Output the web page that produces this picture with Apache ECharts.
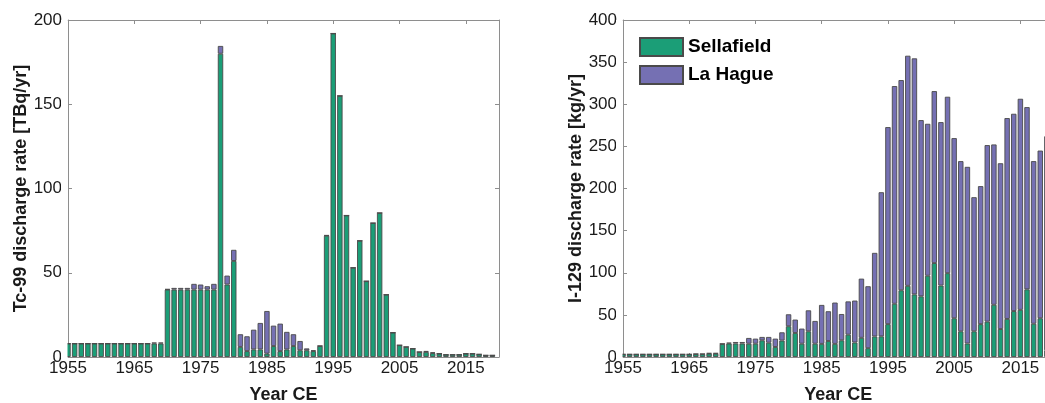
<!DOCTYPE html>
<html>
<head>
<meta charset="utf-8">
<title>Tc-99 and I-129 discharges</title>
<script src="https://cdn.jsdelivr.net/npm/echarts@6/dist/echarts.min.js"></script>
<style>
  html, body { margin: 0; padding: 0; background: #ffffff; }
  #chart { width: 1045px; height: 403px; }
</style>
</head>
<body>
<div id="chart"></div>
<script>
// Year axis: one slot per year; 2020 closes the axis and carries no bar
const years = [
  '1955', '1956', '1957', '1958', '1959', '1960', '1961', '1962', '1963', '1964',
  '1965', '1966', '1967', '1968', '1969', '1970', '1971', '1972', '1973', '1974',
  '1975', '1976', '1977', '1978', '1979', '1980', '1981', '1982', '1983', '1984',
  '1985', '1986', '1987', '1988', '1989', '1990', '1991', '1992', '1993', '1994',
  '1995', '1996', '1997', '1998', '1999', '2000', '2001', '2002', '2003', '2004',
  '2005', '2006', '2007', '2008', '2009', '2010', '2011', '2012', '2013', '2014',
  '2015', '2016', '2017', '2018', '2019', '2020'
];

// Labelled years on the time axis
const yearTicks = ['1955', '1965', '1975', '1985', '1995', '2005', '2015'];

// Tc-99 discharge rate [TBq/yr], 1955-2019
const tcSellafield = [
  8, 8, 8, 8, 8, 8, 8, 8, 8, 8,
  8, 8, 8, 8, 8, 40, 40, 40, 40, 40,
  40, 40, 40, 180, 43, 57, 6, 3.5, 4.5, 4.5,
  2, 6.5, 3.5, 4.5, 6.5, 4, 4, 3.5, 6.5, 72,
  192, 155, 84, 53, 69, 45, 79.5, 85.5, 37, 14.5,
  7, 6, 5, 3, 3, 2.3, 2, 1.4, 1.4, 1.4,
  2, 2, 1.6, 1, 1
];
const tcLaHague = [
  0, 0, 0, 0, 0, 0, 0, 0, 0, 0,
  0, 0, 0, 0.6, 0.6, 0.3, 1, 1, 1, 3.4,
  3, 2, 3.4, 4.6, 5.3, 6.6, 7.5, 8.8, 11.7, 15.7,
  25.3, 12.1, 16.3, 10.4, 7, 5.5, 1.1, 0.5, 0.2, 0.3,
  0, 0, 0, 0, 0, 0, 0, 0, 0, 0,
  0, 0, 0, 0, 0.6, 0.5, 0, 0, 0, 0,
  0, 0, 0, 0, 0
];

// I-129 discharge rate [kg/yr], 1955-2019
const iSellafield = [
  3.2, 3.2, 3.2, 3.2, 3.2, 3.2, 3.2, 3.2, 3.2, 3.2,
  3.2, 3.4, 3.4, 4, 4, 15.5, 16, 16, 16, 15.8,
  15.8, 19.8, 17, 11.9, 19.5, 36.5, 28.5, 15.8, 30.5, 15.8,
  15.6, 19, 15.6, 19.8, 26.5, 17.2, 22.8, 10.5, 24.4, 24.5,
  39, 63.2, 79.2, 84.5, 74.3, 72, 96.5, 111.5, 84.8, 99.5,
  46, 30.5, 16, 30.5, 39, 42, 62, 33.2, 45.2, 54.5,
  56, 80.3, 39.5, 46, 8
];
const iLaHague = [
  0, 0, 0, 0, 0, 0, 0, 0, 0, 0,
  0, 0.4, 0.4, 0.7, 0.7, 0.3, 1, 1.8, 1.8, 6.8,
  6, 4, 6.8, 9.9, 9.8, 14.2, 15.9, 17.9, 24.9, 27,
  46.2, 35.3, 49, 31.2, 39.5, 49.8, 70.2, 73.5, 99.2, 171.1,
  233.9, 258.4, 249.5, 273.1, 280.2, 209.2, 180.3, 204.1, 194, 209.4,
  213.8, 202, 209.7, 159.2, 163.8, 209.5, 190.3, 196.8, 238.4, 234.2,
  250.5, 216.3, 193, 199, 254
];

// Value axis ticks
const tcTicks = [0, 50, 100, 150, 200];
const iTicks = [0, 50, 100, 150, 200, 250, 300, 350, 400];

const FONT = "'Liberation Sans', Arial, Helvetica, sans-serif";
const TEXT = '#1a1a1a';
const FRAME = '#8e8e8e';
const GREEN = '#1b9e77';
const PURPLE = '#7570b3';
const EDGE = '#4a4a4a';

// Plot frames (px)
const PLOTS = [
  { left: 68, top: 20, width: 431, height: 337 },
  { left: 623, top: 20, width: 430.5, height: 337 }
];

const isTickYear = (index, value) => yearTicks.indexOf(String(value)) >= 0;

function bottomX(gridIndex) {
  return {
    type: 'category', gridIndex, position: 'bottom',
    data: years, boundaryGap: false,
    name: 'Year CE', nameLocation: 'middle', nameGap: 29,
    nameTextStyle: { fontFamily: FONT, fontSize: 18, fontWeight: 'bold', color: TEXT },
    axisLine: { show: true, onZero: false, lineStyle: { color: FRAME, width: 1 } },
    axisTick: { show: true, inside: true, length: 4, interval: isTickYear, lineStyle: { color: FRAME } },
    axisLabel: { show: true, margin: 3, interval: isTickYear, fontFamily: FONT, fontSize: 17, color: TEXT },
    splitLine: { show: false }
  };
}

function topX(gridIndex) {
  return {
    type: 'category', gridIndex, position: 'top',
    data: years, boundaryGap: false,
    axisLine: { show: true, onZero: false, lineStyle: { color: FRAME, width: 1 } },
    axisTick: { show: true, inside: true, length: 4, interval: isTickYear, lineStyle: { color: FRAME } },
    axisLabel: { show: false },
    splitLine: { show: false }
  };
}

function leftY(gridIndex, ticks, title, gap) {
  return {
    type: 'value', gridIndex, position: 'left',
    min: ticks[0], max: ticks[ticks.length - 1], interval: ticks[1] - ticks[0],
    name: title, nameLocation: 'middle', nameGap: gap, nameRotate: 90,
    nameTextStyle: { fontFamily: FONT, fontSize: 18, fontWeight: 'bold', color: TEXT },
    axisLine: { show: true, onZero: false, lineStyle: { color: FRAME, width: 1 } },
    axisTick: { show: true, inside: true, length: 4, lineStyle: { color: FRAME } },
    axisLabel: { show: true, margin: 6, fontFamily: FONT, fontSize: 17, color: TEXT },
    splitLine: { show: false }
  };
}

function rightY(gridIndex, ticks) {
  return {
    type: 'value', gridIndex, position: 'right',
    min: ticks[0], max: ticks[ticks.length - 1], interval: ticks[1] - ticks[0],
    axisLine: { show: true, onZero: false, lineStyle: { color: FRAME, width: 1 } },
    axisTick: { show: true, inside: true, length: 4, lineStyle: { color: FRAME } },
    axisLabel: { show: false },
    splitLine: { show: false }
  };
}

function barSeries(name, values, color, axisIndex, stack) {
  return {
    type: 'bar', name, stack,
    xAxisIndex: axisIndex, yAxisIndex: axisIndex,
    data: values,
    barWidth: 5.4,
    clip: true,
    itemStyle: { color, borderColor: EDGE, borderWidth: 0.9 },
    emphasis: { disabled: true },
    animation: false
  };
}

// The first year's bar sits on the y axis; mask the half that falls left of it
function edgeMask(plot) {
  return {
    type: 'rect', z: 5, silent: true,
    shape: { x: plot.left - 7, y: plot.top, width: 6.5, height: plot.height + 1 },
    style: { fill: '#ffffff' }
  };
}

const chart = echarts.init(document.getElementById('chart'), null, { renderer: 'canvas' });
chart.setOption({
  backgroundColor: '#ffffff',
  animation: false,
  textStyle: { fontFamily: FONT },
  grid: PLOTS.map(p => Object.assign({ containLabel: false, outerBoundsMode: 'none' }, p)),
  legend: {
    data: ['Sellafield', 'La Hague'],
    orient: 'vertical', left: 634, top: 32,
    icon: 'rect', itemWidth: 43, itemHeight: 18, itemGap: 8,
    textStyle: { fontFamily: FONT, fontSize: 19, fontWeight: 'bold', color: '#000000' },
    selectedMode: false
  },
  graphic: PLOTS.map(edgeMask),
  xAxis: [bottomX(0), topX(0), bottomX(1), topX(1)],
  yAxis: [
    leftY(0, tcTicks, 'Tc-99 discharge rate [TBq/yr]', 37),
    rightY(0, tcTicks),
    leftY(1, iTicks, 'I-129 discharge rate [kg/yr]', 38),
    rightY(1, iTicks)
  ],
  series: [
    barSeries('Sellafield', tcSellafield, GREEN, 0, 'tc'),
    barSeries('La Hague', tcLaHague, PURPLE, 0, 'tc'),
    barSeries('Sellafield', iSellafield, GREEN, 2, 'iodine'),
    barSeries('La Hague', iLaHague, PURPLE, 2, 'iodine')
  ]
});
</script>
</body>
</html>
